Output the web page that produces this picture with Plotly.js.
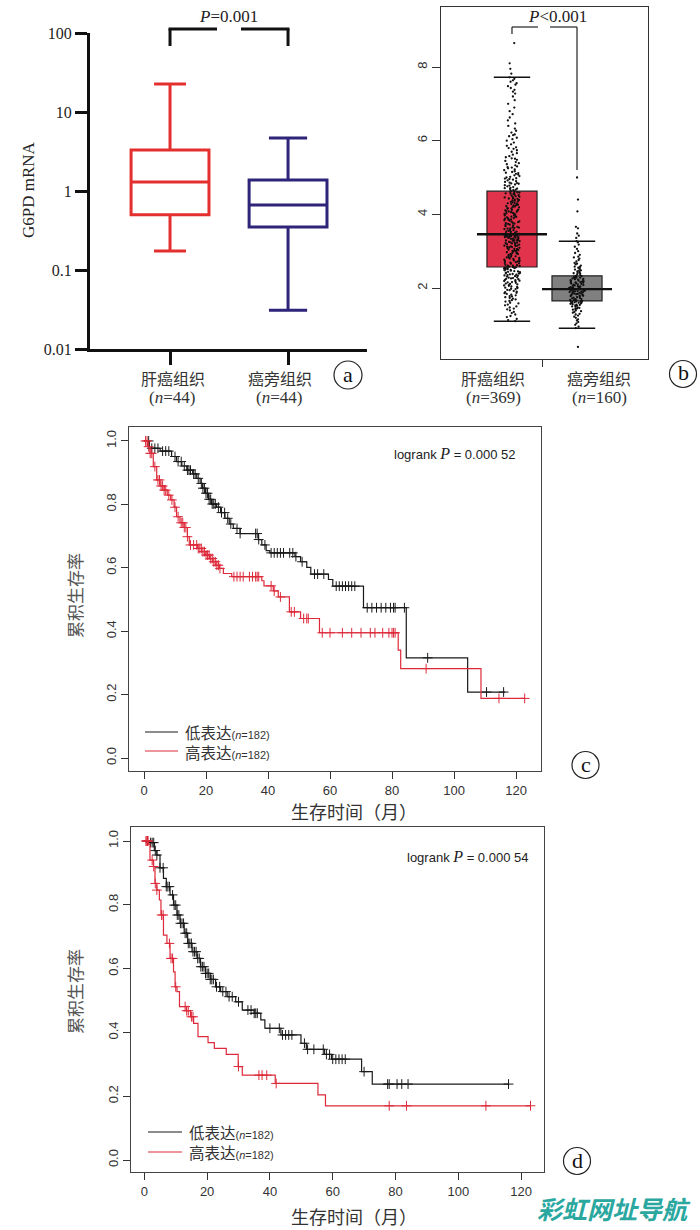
<!DOCTYPE html>
<html>
<head>
<meta charset="utf-8">
<script src="https://cdn.plot.ly/plotly-3.0.1.min.js"></script>
<style>html,body{margin:0;padding:0;background:#fff;}#chart{width:700px;height:1230px;}</style>
</head>
<body>
<div id="chart"></div>
<script>
// ---------------- Panel a: qPCR (log scale) ----------------
const aCategories = ['肝癌组织', '癌旁组织'];
const aCounts = [44, 44];
const aQ1 = [0.50, 0.35];
const aMedian = [1.30, 0.665];
const aQ3 = [3.30, 1.38];
const aLowerWhisker = [0.174, 0.031];
const aUpperWhisker = [22.6, 4.68];
const aTickVals = [0.01, 0.1, 1, 10, 100];
const aTickText = ['0.01', '0.1', '1', '10', '100'];
const aPText = '<i>P</i>=0.001';

// ---------------- Panel b: GEPIA box + points ----------------
const bCategories = ['肝癌组织', '癌旁组织'];
const bCounts = [369, 160];
const bQ1 = [2.57, 1.65];
const bMedian = [3.46, 1.97];
const bQ3 = [4.63, 2.33];
const bLowerWhisker = [1.10, 0.91];
const bUpperWhisker = [7.72, 3.27];
const bTickVals = [2, 4, 6, 8];
const bPText = '<i>P</i>&lt;0.001';
const bTumorPoints = [
1.10,1.13,1.16,1.21,1.24,1.28,1.32,1.35,1.39,1.42,1.44,1.47,1.50,1.53,1.55,1.58,1.60,1.63,1.65,1.67,
1.69,1.71,1.73,1.75,1.77,1.78,1.80,1.82,1.84,1.86,1.87,1.89,1.90,1.92,1.94,1.95,1.97,1.98,2.00,2.01,
2.03,2.04,2.06,2.07,2.08,2.10,2.11,2.12,2.14,2.15,2.16,2.18,2.19,2.20,2.21,2.22,2.24,2.25,2.26,2.27,
2.28,2.29,2.31,2.32,2.33,2.34,2.35,2.36,2.37,2.38,2.39,2.40,2.41,2.42,2.43,2.44,2.45,2.46,2.47,2.48,
2.49,2.50,2.51,2.52,2.53,2.54,2.54,2.55,2.56,2.56,2.57,2.57,
2.58,2.60,2.61,2.61,2.63,2.66,2.67,2.69,2.70,2.72,2.73,2.73,2.75,2.78,2.79,2.80,2.82,2.83,2.83,2.86,
2.87,2.89,2.90,2.92,2.92,2.94,2.95,2.97,2.99,3.00,3.01,3.01,3.03,3.05,3.06,3.06,3.08,3.09,3.11,3.12,
3.13,3.15,3.15,3.16,3.18,3.19,3.20,3.21,3.23,3.24,3.24,3.25,3.27,3.28,3.29,3.29,3.30,3.32,3.33,3.34,
3.35,3.35,3.36,3.37,3.38,3.38,3.39,3.40,3.40,3.41,3.42,3.42,3.43,3.43,3.44,3.44,3.45,3.45,3.46,3.46,
2.62,2.77,2.85,2.96,3.04,3.14,3.22,3.31,3.39,3.41,2.68,3.10,
3.47,3.49,3.50,3.52,3.54,3.55,3.57,3.60,3.61,3.63,3.65,3.66,3.68,3.71,3.72,3.74,3.76,3.77,3.80,3.81,
3.83,3.85,3.86,3.89,3.90,3.92,3.94,3.95,3.98,3.99,4.01,4.03,4.04,4.07,4.08,4.10,4.12,4.13,4.16,4.17,
4.19,4.21,4.22,4.25,4.26,4.28,4.30,4.31,4.34,4.35,4.37,4.39,4.40,4.43,4.44,4.46,4.48,4.49,4.52,4.53,
4.55,4.57,4.58,4.60,4.61,4.62,3.53,3.58,3.64,3.70,3.75,3.79,3.84,3.88,3.93,3.97,4.02,4.06,4.11,4.15,
4.20,4.24,4.29,4.33,4.38,4.42,4.47,4.51,4.56,4.59,3.62,4.09,
4.64,4.66,4.67,4.69,4.71,4.72,4.74,4.76,4.78,4.79,4.81,4.83,4.85,4.86,4.88,4.90,4.92,4.94,4.96,4.98,
5.00,5.02,5.04,5.06,5.08,5.10,5.12,5.15,5.17,5.20,5.22,5.25,5.27,5.30,5.33,5.36,5.39,5.42,5.45,5.48,
5.51,5.55,5.58,5.62,5.66,5.70,5.74,5.78,5.82,5.86,5.90,5.95,6.00,6.04,6.08,6.12,6.17,6.22,6.27,6.33,
6.40,6.47,6.55,6.63,6.72,6.80,6.90,7.00,7.10,7.20,7.28,7.33,7.38,7.43,7.48,7.52,7.56,7.60,7.64,7.68,
7.72,4.70,4.84,4.97,5.13,5.28,5.52,5.80,6.15,
7.82,7.95,8.10,8.65
];
const bNormalPoints = [
0.91,0.95,1.00,1.04,1.08,1.12,1.15,1.19,1.22,1.25,1.28,1.30,1.33,1.35,1.37,1.39,1.41,1.43,1.44,1.46,
1.47,1.49,1.50,1.52,1.53,1.54,1.55,1.56,1.57,1.58,1.59,1.60,1.60,1.61,1.62,1.63,1.63,1.64,1.64,1.65,
1.66,1.67,1.69,1.70,1.70,1.72,1.73,1.75,1.76,1.78,1.79,1.79,1.81,1.82,1.84,1.85,1.85,1.87,1.88,1.89,
1.90,1.91,1.91,1.92,1.93,1.94,1.94,1.95,1.96,1.96,1.97,1.97,1.68,1.74,1.80,1.86,1.90,1.93,1.95,1.83,
1.98,1.99,2.00,2.01,2.02,2.03,2.05,2.06,2.07,2.09,2.10,2.11,2.13,2.14,2.15,2.17,2.18,2.19,2.21,2.22,
2.23,2.25,2.26,2.27,2.28,2.29,2.30,2.31,2.32,2.33,2.00,2.04,2.08,2.12,2.16,2.20,2.24,2.02,2.15,2.28,
2.35,2.37,2.39,2.41,2.43,2.45,2.47,2.50,2.52,2.55,2.58,2.61,2.64,2.68,2.72,2.76,2.80,2.85,2.90,2.95,
3.00,3.06,3.12,3.18,3.24,3.27,2.40,2.48,2.57,2.66,2.83,
3.36,3.42,3.48,3.62,3.66,4.08,4.40,5.00,0.40
];

// ---------------- Panel c: KM (months, survival) ----------------
const kmTicksX = [0, 20, 40, 60, 80, 100, 120];
const kmTicksY = [0, 0.2, 0.4, 0.6, 0.8, 1.0];
const kmGroups = ['低表达', '高表达'];
const kmCounts = [182, 182];
const cLowTime = [0,1.7,5.2,8.9,10.5,12.2,13.8,15.7,17.0,18.1,18.9,19.8,20.8,21.8,23.4,24.7,26.1,27.5,28.8,31.0,36.9,38.0,39.4,40.6,48.7,50.5,52.5,53.8,59.5,60.9,70.8,84.6,104.4,116.5];
const cLowSurv = [1.0,0.977,0.968,0.951,0.935,0.921,0.908,0.896,0.882,0.866,0.851,0.835,0.816,0.801,0.791,0.774,0.756,0.738,0.724,0.708,0.689,0.672,0.654,0.647,0.635,0.619,0.601,0.580,0.563,0.542,0.474,0.316,0.208,0.208];
const cHighTime = [0,1.1,1.9,3.0,4.1,5.2,6.5,7.5,8.6,9.7,10.5,11.6,12.9,14.0,14.6,17.2,18.6,20.0,21.1,22.2,23.2,24.3,25.6,28.3,38.0,38.7,41.7,43.3,46.9,50.5,56.6,82.0,82.8,108.7,122.9];
const cHighSurv = [1.0,0.982,0.961,0.919,0.877,0.858,0.845,0.829,0.814,0.791,0.761,0.742,0.727,0.698,0.672,0.661,0.651,0.640,0.629,0.619,0.608,0.598,0.582,0.572,0.559,0.543,0.527,0.508,0.461,0.440,0.395,0.340,0.282,0.188,0.188];
const cLowCensor = [1.5,2.5,3.5,4.5,6,7,8,10,11,12,13,14,14.5,15,16,16.5,17.5,18.5,19,19.5,20,20.5,21,21.5,22,22.5,23,24,25,26,27,28,30,31,36,36.5,37,39,41,42,43,44,45,47,48,49,51,55,56,58,62,63,64,65,66,67,68,72,73.5,75,76.5,78,79.5,80.5,81,84,91.5,110.5,116];
const cHighCensor = [0.5,1,1.5,2,2.5,3.5,4.5,5,5.5,6,6.5,7,8,9,10,11,12,12.5,13,13.5,14,15,16,17,17.5,18,18.5,19,19.5,20,20.5,21,21.5,22,22.5,23,23.5,24,24.5,29,30,31,32,34,35,36,36.5,37,41,42,44,47.5,48.5,51.5,52.5,53,57.5,60,64,67,70,73,74.5,77,79,80,80.5,81,91,114.5,122.8];
const cPText = 'logrank <span style="font-family:Liberation Serif;font-size:16px"><i>P</i></span> = 0.000 52';

// ---------------- Panel d: KM ----------------
const dLowTime = [0,1.8,3.2,4.0,5.0,6.1,7.0,8.2,9.3,10.4,11.4,12.7,13.8,15.2,16.8,17.9,19.5,21.0,22.7,24.3,26.4,29.1,31.2,35.0,37.1,38.4,43.5,49.9,51.6,57.4,59.6,69.2,72.6,116.2];
const dLowSurv = [1.0,0.995,0.970,0.956,0.916,0.883,0.857,0.831,0.799,0.768,0.742,0.711,0.679,0.653,0.632,0.606,0.585,0.566,0.543,0.528,0.512,0.496,0.470,0.460,0.439,0.413,0.392,0.366,0.347,0.331,0.316,0.277,0.238,0.238];
const dHighTime = [0,1.3,1.8,2.9,3.4,4.0,4.8,5.3,6.1,7.2,8.2,9.3,9.8,10.4,11.2,13.4,14.7,15.7,17.1,20.3,22.3,26.1,29.9,31.2,41.7,55.3,57.7,123.0];
const dHighSurv = [1.0,0.99,0.94,0.92,0.867,0.846,0.815,0.768,0.705,0.679,0.632,0.590,0.543,0.528,0.481,0.468,0.449,0.428,0.387,0.368,0.350,0.331,0.293,0.266,0.240,0.204,0.170,0.170];
const dLowCensor = [1,2,2.5,3,3.5,4,5,6,7,7.5,8,9,9.5,10,10.5,11,11.5,12,12.5,13,13.5,14,14.5,15,15.5,16,16.5,17,17.5,18,18.5,19,19.5,20,20.5,21,21.5,22,23,24,25,26,27,28,30,33,34,35,35.5,36,40,43,44,45,46,47,51,52,54,57,58,59,60,61,62,63,64,70,77.5,78,80.5,82,84,116];
const dHighCensor = [0.5,0.8,1,1.2,2.5,3,3.5,4,5.5,6,8,8.5,9,10,13,13.5,14,15,15.5,30,36.5,37.5,39,42,78,83.5,108.8,123];
const dPText = 'logrank <span style="font-family:Liberation Serif;font-size:16px"><i>P</i></span> = 0.000 54';

const xTitleKM = '生存时间（月）';
const yTitleKM = '累积生存率';

// ---------------- helpers ----------------
const W = 700, H = 1230;
const px = x => x / W;
const py = y => 1 - y / H;
const CJK = 'Noto Sans CJK SC';
const SERIF = 'Liberation Serif';
const SANS = 'Liberation Sans';

function survAt(times, surv, t) {
  let s = surv[0];
  for (let i = 0; i < times.length; i++) { if (times[i] <= t) s = surv[i]; }
  return s;
}

const traces = [];

// Panel a boxes
const aColors = ['#e3302f', '#2e2479'];
const aWhisk = [0.41, 0.49];
aCategories.forEach((c, i) => {
  traces.push({
    type: 'box', xaxis: 'x', yaxis: 'y', x: [i],
    q1: [aQ1[i]], median: [aMedian[i]], q3: [aQ3[i]],
    lowerfence: [aLowerWhisker[i]], upperfence: [aUpperWhisker[i]],
    width: 0.66, whiskerwidth: aWhisk[i], boxpoints: false,
    line: { color: aColors[i], width: 3 }, fillcolor: 'white', hoverinfo: 'skip'
  });
});

// Panel b boxes
const bFill = ['#e2334c', '#808080'];
const bPoints = [bTumorPoints, bNormalPoints];
bCategories.forEach((c, i) => {
  traces.push({
    type: 'box', xaxis: 'x2', yaxis: 'y2', x: [i],
    q1: [bQ1[i]], median: [bMedian[i]], q3: [bQ3[i]],
    lowerfence: [bQ1[i]], upperfence: [bQ3[i]],
    width: 0.77, whiskerwidth: 0, boxpoints: false,
    line: { color: '#222', width: 1.2 }, fillcolor: bFill[i], hoverinfo: 'skip'
  });
});
bCategories.forEach((c, i) => {
  traces.push({
    type: 'box', xaxis: 'x2', yaxis: 'y2', x0: i, y: bPoints[i],
    width: 0.77, boxpoints: 'all', jitter: 0.32, pointpos: 0,
    line: { color: 'rgba(0,0,0,0)', width: 0 }, fillcolor: 'rgba(0,0,0,0)',
    marker: { color: '#111', size: 2.3 }, hoverinfo: 'skip'
  });
});
// median bars and whisker caps (b)
traces.push({
  type: 'scatter', mode: 'markers', xaxis: 'x2', yaxis: 'y2',
  x: bCategories.map((c, i) => i), y: bMedian,
  marker: { symbol: 'line-ew', size: 50, line: { width: 2.4, color: '#111' } }, hoverinfo: 'skip'
});
traces.push({
  type: 'scatter', mode: 'markers', xaxis: 'x2', yaxis: 'y2',
  x: bCategories.map((c, i) => i).concat(bCategories.map((c, i) => i)),
  y: bLowerWhisker.concat(bUpperWhisker),
  marker: { symbol: 'line-ew', size: 26, line: { width: 1.5, color: '#111' } }, hoverinfo: 'skip'
});

// KM panels
const kmColors = ['#1a1a1a', '#dd2a3a'];
function addKM(xa, ya, tLow, sLow, cLow, tHigh, sHigh, cHigh) {
  const sets = [[tLow, sLow, cLow], [tHigh, sHigh, cHigh]];
  sets.forEach((s, i) => {
    traces.push({
      type: 'scatter', mode: 'lines', xaxis: xa, yaxis: ya, x: s[0], y: s[1],
      line: { shape: 'hv', color: kmColors[i], width: 1.2 }, hoverinfo: 'skip'
    });
    traces.push({
      type: 'scatter', mode: 'markers', xaxis: xa, yaxis: ya, x: s[2],
      y: s[2].map(t => survAt(s[0], s[1], t)),
      marker: { symbol: 'cross-thin', size: 7, color: kmColors[i], line: { width: 1, color: kmColors[i] } },
      hoverinfo: 'skip'
    });
  });
}
addKM('x3', 'y3', cLowTime, cLowSurv, cLowCensor, cHighTime, cHighSurv, cHighCensor);
addKM('x4', 'y4', dLowTime, dLowSurv, dLowCensor, dHighTime, dHighSurv, dHighCensor);

// ---------------- layout ----------------
const kmX = (dom, anchor, range) => ({
  domain: dom, anchor: anchor, range: range, tickvals: kmTicksX,
  ticks: 'outside', ticklen: 7, tickwidth: 1, tickcolor: '#333',
  showline: true, mirror: true, linecolor: '#444', linewidth: 1.2,
  showgrid: false, zeroline: false,
  tickfont: { family: SANS, size: 13, color: '#333' }
});
const kmY = (dom, anchor, range) => ({
  domain: dom, anchor: anchor, range: range, tickvals: kmTicksY,
  tickformat: '.1f', tickangle: -90,
  ticks: 'outside', ticklen: 7, tickwidth: 1, tickcolor: '#333',
  showline: true, mirror: true, linecolor: '#444', linewidth: 1.2,
  showgrid: false, zeroline: false,
  tickfont: { family: SANS, size: 13, color: '#333' }
});

const annotations = [];
const shapes = [];
function txt(x, y, text, font, opts) {
  annotations.push(Object.assign({
    xref: 'paper', yref: 'paper', x: px(x), y: py(y), text: text, showarrow: false,
    xanchor: 'center', yanchor: 'middle', font: font
  }, opts || {}));
}
function line(x0, y0, x1, y1, color, width) {
  shapes.push({ type: 'line', xref: 'paper', yref: 'paper', x0: px(x0), y0: py(y0), x1: px(x1), y1: py(y1),
    line: { color: color, width: width } });
}
function circleLabel(cx, cy, r, letter) {
  shapes.push({ type: 'circle', xref: 'paper', yref: 'paper', x0: px(cx - r), x1: px(cx + r), y0: py(cy + r), y1: py(cy - r),
    line: { color: '#222', width: 1.2 } });
  txt(cx, cy - 1, letter, { family: SERIF, size: 22, color: '#111' });
}
function legendBlock(lineX0, lineX1, rowsY, textX) {
  kmGroups.forEach((g, i) => line(lineX0, rowsY[i], lineX1, rowsY[i], kmColors[i], 1.2));
  const rows = kmGroups.map((g, i) => g + '<span style="font-size:11px;font-family:Liberation Sans">(<i>n</i>=' + kmCounts[i] + ')</span>');
  txt(textX, (rowsY[0] + rowsY[1]) / 2, rows.join('<br>'), { family: CJK, size: 15.5, color: '#333' }, { xanchor: 'left', align: 'left' });
}

// Panel a texts
txt(28, 190, 'G6PD mRNA', { family: SERIF, size: 17, color: '#222' }, { textangle: -90 });
const aLabelX = [173, 280];
aCategories.forEach((c, i) => {
  txt(aLabelX[i], 378, c, { family: CJK, size: 16, color: '#333' });
  txt(aLabelX[i] - 1, 397, '(<i>n</i>=' + aCounts[i] + ')', { family: SERIF, size: 17, color: '#333' });
});
txt(228, 17, aPText, { family: SERIF, size: 17, color: '#222' });
shapes.push({ type: 'line', xref: 'x', yref: 'paper', x0: 0, x1: 0, y0: py(29), y1: py(46), line: { color: '#111', width: 3 } });
shapes.push({ type: 'line', xref: 'x', yref: 'paper', x0: 1, x1: 1, y0: py(29), y1: py(46), line: { color: '#111', width: 3 } });
line(168.5, 29, 217, 29, '#111', 3);
line(241, 29, 289.5, 29, '#111', 3);
circleLabel(348, 375, 14, 'a');

// Panel b texts
const bLabelX = [493, 599];
bCategories.forEach((c, i) => {
  txt(bLabelX[i], 378, c, { family: CJK, size: 16, color: '#333' });
  txt(bLabelX[i], 397, '(<i>n</i>=' + bCounts[i] + ')', { family: SERIF, size: 17, color: '#333' });
});
txt(557, 17, bPText, { family: SERIF, size: 17, color: '#222' });
shapes.push({ type: 'line', xref: 'x2', yref: 'paper', x0: 0, x1: 0, y0: py(27), y1: py(34), line: { color: '#222', width: 1.2 } });
shapes.push({ type: 'line', xref: 'x2', yref: 'paper', x0: 1, x1: 1, y0: py(27), y1: py(170), line: { color: '#222', width: 1.2 } });
line(512, 27, 538, 27, '#222', 1.2);
line(550, 27, 577, 27, '#222', 1.2);
circleLabel(683, 374, 13.5, 'b');

// Panel c texts
txt(454, 453, cPText, { family: SANS, size: 13, color: '#222' });
txt(354, 811, xTitleKM, { family: CJK, size: 18, color: '#333' });
txt(74, 596, yTitleKM, { family: CJK, size: 17, color: '#555' }, { textangle: -90 });
legendBlock(145, 178, [732, 751], 183);
circleLabel(585.5, 765, 13.5, 'c');

// Panel d texts
txt(467, 856, dPText, { family: SANS, size: 13, color: '#222' });
txt(354, 1216, xTitleKM, { family: CJK, size: 18, color: '#333' });
txt(74, 992, yTitleKM, { family: CJK, size: 17, color: '#555' }, { textangle: -90 });
legendBlock(148, 182, [1132, 1152], 187);
circleLabel(577, 1161, 13.5, 'd');

// watermark
txt(614, 1208, '彩虹网址导航', { family: CJK, size: 25, color: '#2aa79f', weight: 700, style: 'italic' });

const layout = {
  width: W, height: H, margin: { l: 0, r: 0, t: 0, b: 0 },
  paper_bgcolor: '#ffffff', plot_bgcolor: 'rgba(0,0,0,0)',
  showlegend: false, boxmode: 'overlay', hovermode: false,
  xaxis: {
    domain: [px(90), px(367)], anchor: 'y', range: [-0.678, 1.669], tickvals: [0, 1], showticklabels: false,
    ticks: 'outside', ticklen: 13, tickwidth: 3, tickcolor: '#111',
    showline: true, linewidth: 3, linecolor: '#111', showgrid: false, zeroline: false
  },
  yaxis: {
    domain: [py(349), py(33)], anchor: 'x', type: 'log', range: [-2, 2],
    tickvals: aTickVals, ticktext: aTickText,
    ticks: 'outside', ticklen: 12, tickwidth: 3, tickcolor: '#111',
    showline: true, linewidth: 3, linecolor: '#111', showgrid: false, zeroline: false,
    tickfont: { family: SERIF, size: 16, color: '#222' }
  },
  xaxis2: {
    domain: [px(441), px(648)], anchor: 'y2', range: [-1.092, 2.092], tickvals: [0.47], showticklabels: false,
    ticks: 'outside', ticklen: 7, tickwidth: 1, tickcolor: '#333',
    showline: true, mirror: true, linecolor: '#333', linewidth: 1.3, showgrid: false, zeroline: false
  },
  yaxis2: {
    domain: [py(359), py(7)], anchor: 'x2', range: [0.072, 9.63], tickvals: bTickVals, tickangle: -90,
    ticks: 'outside', ticklen: 8, tickwidth: 1, tickcolor: '#333',
    showline: true, mirror: true, linecolor: '#333', linewidth: 1.3, showgrid: false, zeroline: false,
    tickfont: { family: SANS, size: 13, color: '#333' }
  },
  xaxis3: kmX([px(129), px(541)], 'y3', [-4.84, 128.06]),
  yaxis3: kmY([py(771), py(427)], 'x3', [-0.041, 1.044]),
  xaxis4: kmX([px(131), px(544)], 'y4', [-4.24, 127.3]),
  yaxis4: kmY([py(1172), py(827)], 'x4', [-0.0376, 1.0439]),
  annotations: annotations,
  shapes: shapes
};

Plotly.newPlot('chart', traces, layout, { staticPlot: true, displayModeBar: false });
</script>
</body>
</html>
